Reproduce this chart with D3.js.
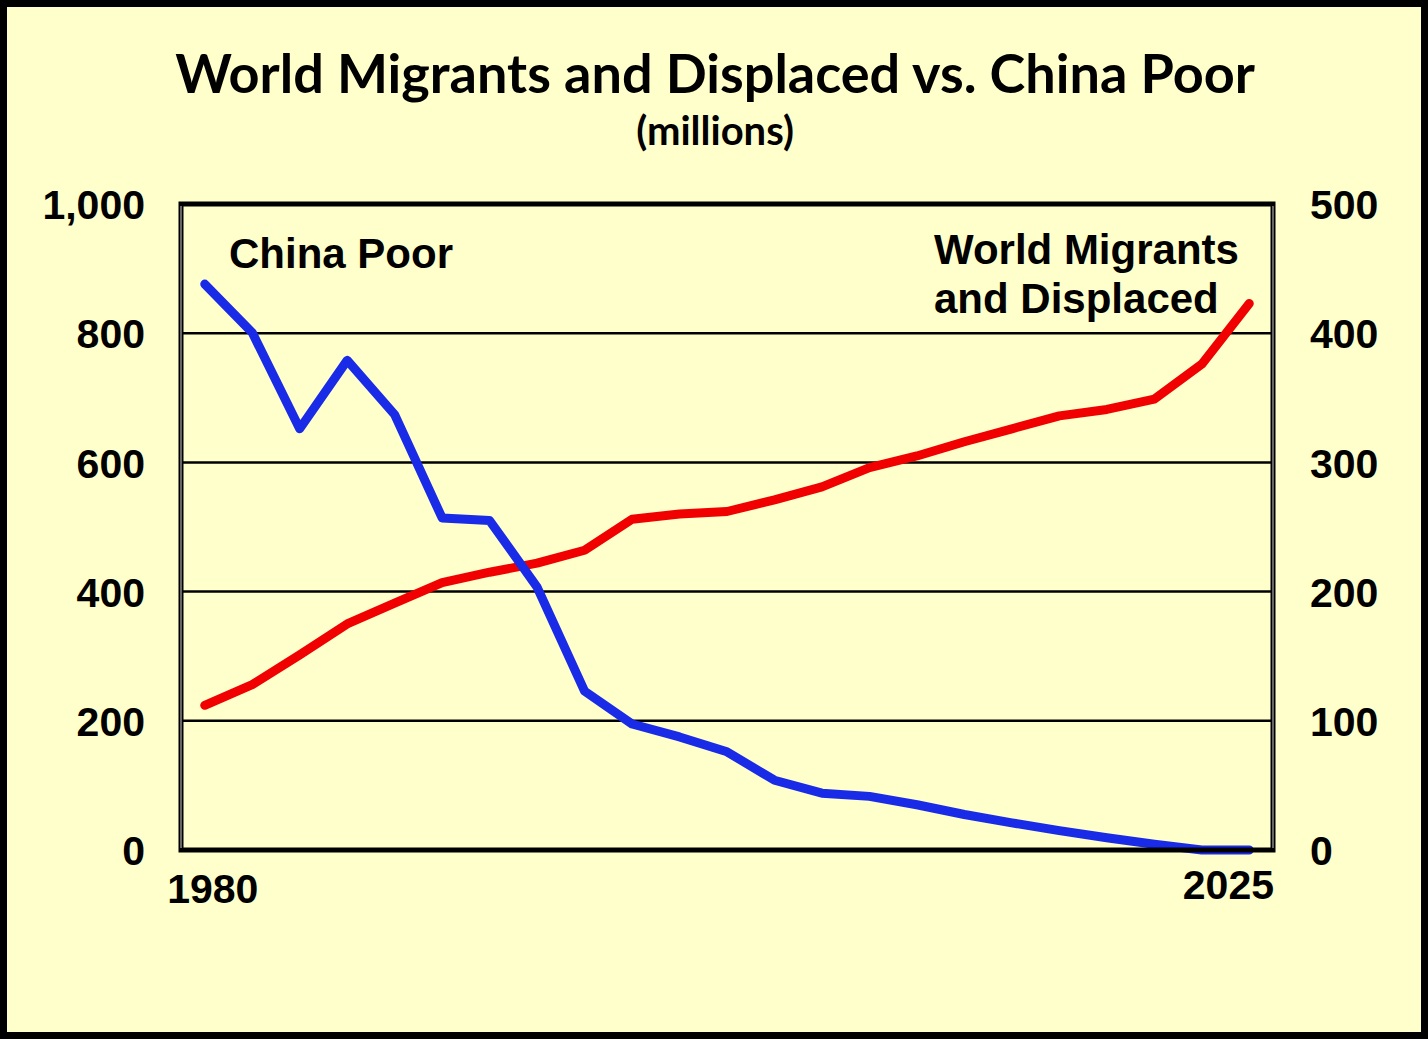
<!DOCTYPE html>
<html>
<head>
<meta charset="utf-8">
<script src="https://cdn.jsdelivr.net/npm/d3@7"></script>
<style>
  body { margin: 0; background: #fff; }
  svg { display: block; }
</style>
</head>
<body>
<svg id="chart" width="1428" height="1039"></svg>
<script>
// data (millions)
var years = [1980, 1982, 1984, 1986, 1988, 1990, 1992, 1994, 1996, 1998, 2000, 2002,
             2004, 2006, 2008, 2010, 2012, 2014, 2016, 2018, 2020, 2022, 2024];
var chinaPoor = [876, 801, 652, 758, 674, 514, 510, 407, 246, 195, 175, 152,
                 108, 88, 83, 70, 55, 42, 30, 19, 9, 0, 0];
var migrants = [112, 128, 151, 175, 191, 207, 215, 222, 232, 256, 260, 262,
                271, 281, 296, 305, 316, 326, 336, 341, 349, 376, 423];
var leftTicks = [0, 200, 400, 600, 800, 1000];
var rightTicks = [0, 100, 200, 300, 400, 500];
var xLabels = ["1980", "2025"];

var W = 1428, H = 1039;
var m = {left: 181, right: 1273, top: 204, bottom: 850};

var svg = d3.select("#chart");

// background and outer frame
svg.append("rect")
    .attr("x", 3.5).attr("y", 3.5)
    .attr("width", W - 7).attr("height", H - 7)
    .attr("fill", "#FFFFCC")
    .attr("stroke", "#000")
    .attr("stroke-width", 7);

//scales
var x = d3.scalePoint()
    .domain(years)
    .range([m.left, m.right])
    .padding(0.5);
var yL = d3.scaleLinear().domain([0, 1000]).range([m.bottom, m.top]);
var yR = d3.scaleLinear().domain([0, 500]).range([m.bottom, m.top]);

// gridlines
svg.append("g")
    .selectAll("line").data(leftTicks.slice(1, -1))
    .enter().append("line")
    .attr("x1", m.left).attr("x2", m.right)
    .attr("y1", function(d) { return yL(d); })
    .attr("y2", function(d) { return yL(d); })
    .attr("stroke", "#000")
    .attr("stroke-width", 2.5);

// axes, Excel-ish: no tick marks, bold labels
var tickFont = "'Liberation Sans', Arial, sans-serif";
var leftAxis = svg.append("g")
    .attr("transform", "translate(" + (m.left - 36) + ",0)")
    .call(d3.axisLeft(yL).tickValues(leftTicks).tickSize(0).tickFormat(d3.format(",")));
var rightAxis = svg.append("g")
    .attr("transform", "translate(" + (m.right + 37) + ",0)")
    .call(d3.axisRight(yR).tickValues(rightTicks).tickSize(0).tickFormat(d3.format("d")));
[leftAxis, rightAxis].forEach(function(a) {
    a.select(".domain").remove();
    a.selectAll("text")
        .attr("x", 0)
        .attr("dy", "0.36em")
        .style("font-family", tickFont)
        .style("font-weight", "bold")
        .style("font-size", "41px")
        .attr("fill", "#000");
});

// x labels only at the ends
svg.append("text")
    .attr("x", x(years[0]) + 8).attr("y", 903)
    .attr("text-anchor", "middle")
    .style("font-family", tickFont).style("font-weight", "bold").style("font-size", "41px")
    .text(xLabels[0]);
svg.append("text")
    .attr("x", m.right + 1).attr("y", 899)
    .attr("text-anchor", "end")
    .style("font-family", tickFont).style("font-weight", "bold").style("font-size", "41px")
    .text(xLabels[1]);

// lines
var lineL = d3.line()
    .x(function(d, i) { return x(years[i]); })
    .y(function(d) { return yL(d); });
var lineR = d3.line()
    .x(function(d, i) { return x(years[i]); })
    .y(function(d) { return yR(d); });

svg.append("path")
    .datum(migrants)
    .attr("d", lineR)
    .attr("fill", "none")
    .attr("stroke", "#F00000")
    .attr("stroke-width", 9)
    .attr("stroke-linejoin", "round")
    .attr("stroke-linecap", "round");
svg.append("path")
    .datum(chinaPoor)
    .attr("d", lineL)
    .attr("fill", "none")
    .attr("stroke", "#1A2BE8")
    .attr("stroke-width", 9)
    .attr("stroke-linejoin", "round")
    .attr("stroke-linecap", "round");

// plot frame (thick black, grey stripe on the sides)
svg.append("rect")
    .attr("x", m.left).attr("y", m.top)
    .attr("width", m.right - m.left).attr("height", m.bottom - m.top)
    .attr("fill", "none")
    .attr("stroke", "#000")
    .attr("stroke-width", 5);
[m.left, m.right].forEach(function(px) {
    svg.append("line")
        .attr("x1", px).attr("x2", px)
        .attr("y1", m.top + 2).attr("y2", m.bottom - 2)
        .attr("stroke", "#888")
        .attr("stroke-width", 1.5);
});

// series labels
var lab = svg.append("g")
    .style("font-family", tickFont)
    .style("font-weight", "bold")
    .style("font-size", "42px")
    .attr("fill", "#000");
lab.append("text").attr("x", 229).attr("y", 268).text("China Poor");
lab.append("text").attr("x", 934).attr("y", 264).text("World Migrants");
lab.append("text").attr("x", 934).attr("y", 313).text("and Displaced");

// titles
svg.append("text")
    .attr("x", 715).attr("y", 93)
    .attr("text-anchor", "middle")
    .style("font-family", "Lato, 'Open Sans', sans-serif")
    .style("font-weight", "bold")
    .style("font-size", "54px")
    .text("World Migrants and Displaced vs. China Poor");
svg.append("text")
    .attr("x", 715).attr("y", 145)
    .attr("text-anchor", "middle")
    .style("font-family", "Lato, 'Open Sans', sans-serif")
    .style("font-weight", "bold")
    .style("font-size", "40px")
    .text("(millions)");
</script>
</body>
</html>
